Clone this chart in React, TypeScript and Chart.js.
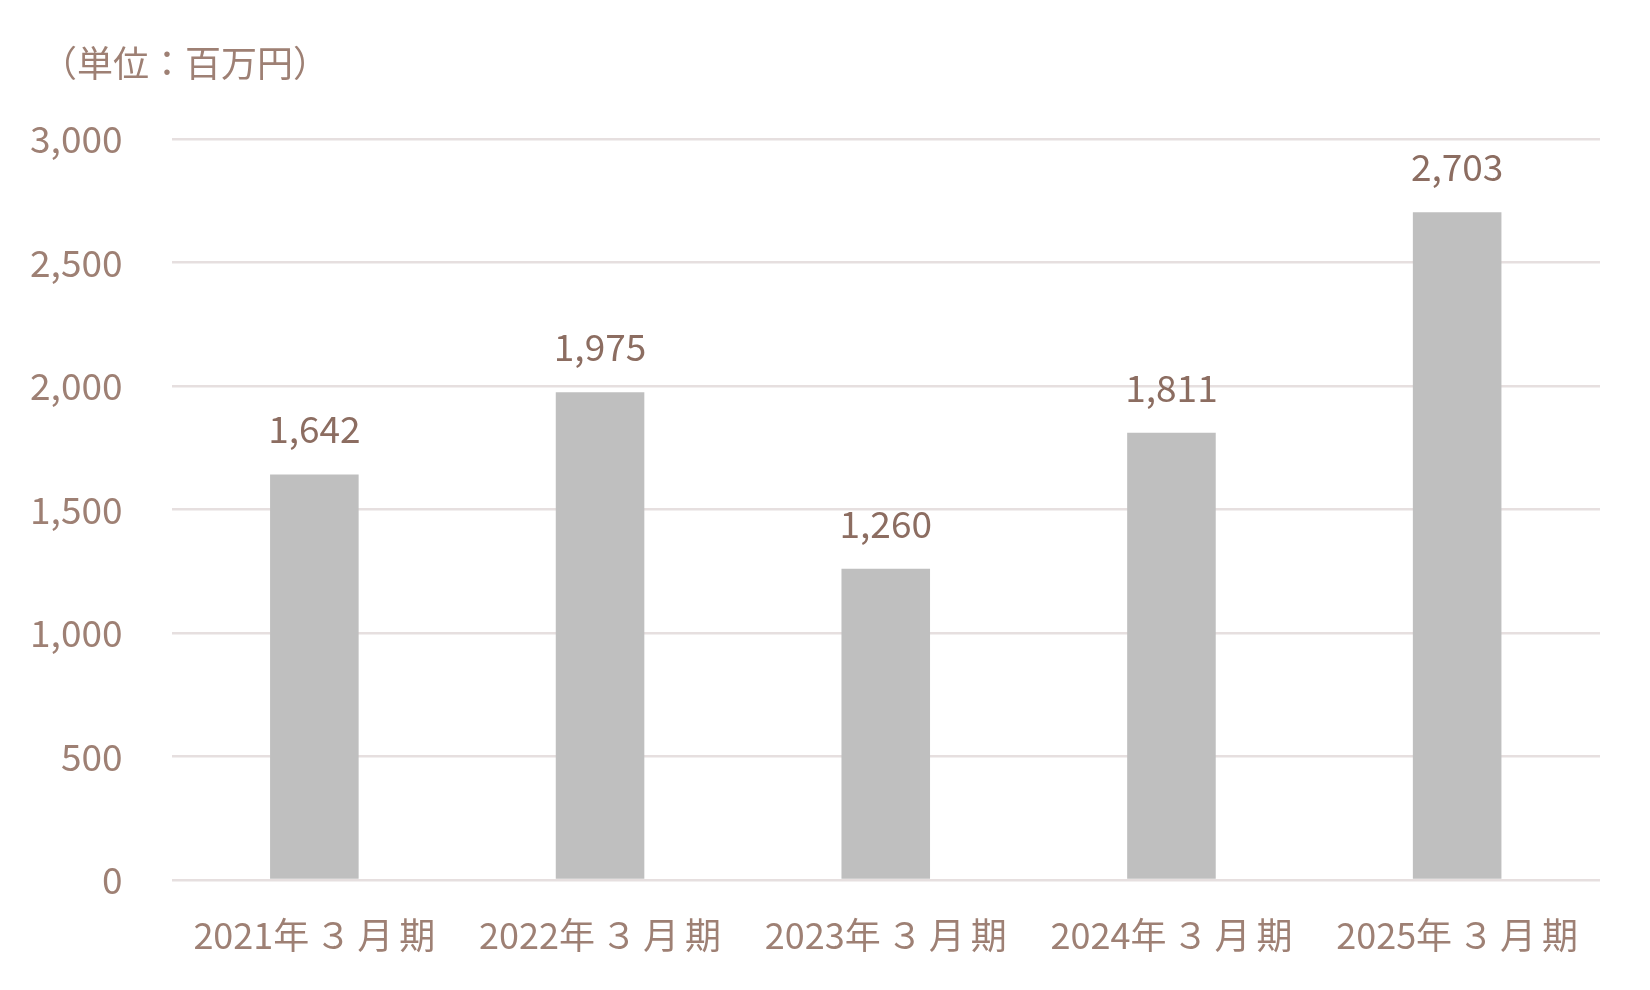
import React, { useEffect, useRef } from "react";
import { Chart, registerables } from "chart.js";

Chart.register(...registerables);

const categories = ["2021年３月期", "2022年３月期", "2023年３月期", "2024年３月期", "2025年３月期"];
const revenue = [1642, 1975, 1260, 1811, 2703];
const yTicks = [0, 500, 1000, 1500, 2000, 2500, 3000];
const unitLabel = "（単位：百万円）";

const FONT = "'Noto Sans CJK JP', 'Noto Sans', sans-serif";
const AXIS_COLOR = "#9e8074";
const LABEL_COLOR = "#8c6d61";

const overlayPlugin = {
  id: "overlay",
  afterDatasetsDraw(chart: any) {
    const ctx = chart.ctx;
    ctx.save();
    ctx.font = `37px ${FONT}`;
    ctx.fillStyle = LABEL_COLOR;
    ctx.textAlign = "center";
    ctx.textBaseline = "middle";
    const meta = chart.getDatasetMeta(0);
    meta.data.forEach((bar: any, i: number) => {
      ctx.fillText(revenue[i].toLocaleString("en-US"), bar.x, bar.y - 45);
    });

    // category labels, drawn at the x scale's pixel positions with a little extra spacing
    const xs = chart.scales.x;
    ctx.font = `36px ${FONT}`;
    ctx.fillStyle = AXIS_COLOR;
    ctx.textAlign = "left";
    const gap = 6;
    categories.forEach((label, i) => {
      const idx = label.indexOf("年") + 1;
      const parts = [label.slice(0, idx), ...label.slice(idx).split("")];
      const widths = parts.map((p) => ctx.measureText(p).width);
      const total = widths.reduce((a, b) => a + b, 0) + gap * (parts.length - 1);
      let x = xs.getPixelForValue(i) - total / 2;
      const y = xs.bottom - xs.height + 55;
      parts.forEach((p, k) => {
        ctx.fillText(p, x, y);
        x += widths[k] + gap;
      });
    });

    ctx.textAlign = "left";
    ctx.fillText(unitLabel, 41, 63);
    ctx.restore();
  },
};

export default function App() {
  const ref = useRef<HTMLCanvasElement | null>(null);
  useEffect(() => {
    if (!ref.current) return;
    const chart = new Chart(ref.current, {
      type: "bar",
      data: {
        labels: categories,
        datasets: [
          {
            data: revenue,
            backgroundColor: "#bfbfbf",
            categoryPercentage: 1,
            barPercentage: 0.31,
          },
        ],
      },
      options: {
        animation: false,
        responsive: false,
        maintainAspectRatio: false,
        layout: { padding: { top: 139, right: 50, left: 0, bottom: 0 } },
        plugins: { legend: { display: false }, tooltip: { enabled: false }, title: { display: false } },
        scales: {
          x: {
            grid: { display: false, drawTicks: false },
            border: { display: false },
            ticks: { display: false },
            afterFit: (s: any) => { s.height = 110; },
          },
          y: {
            min: 0,
            max: 3000,
            afterBuildTicks: (s: any) => { s.ticks = yTicks.map((v) => ({ value: v })); },
            grid: { color: "#e6dfdf", lineWidth: 2.5, drawTicks: false },
            border: { display: false },
            ticks: {
              color: AXIS_COLOR,
              font: { family: FONT, size: 37 },
              padding: 49,
              callback: (v: any) => Number(v).toLocaleString("en-US"),
            },
            afterFit: (s: any) => { s.width = 171.5; },
          },
        },
      },
      plugins: [overlayPlugin],
    });
    return () => chart.destroy();
  }, []);
  return (
    <div style={{ position: "fixed", left: 0, top: 0, width: 1650, height: 990, background: "#fff" }}>
      <canvas ref={ref} width={1650} height={990} />
    </div>
  );
}
